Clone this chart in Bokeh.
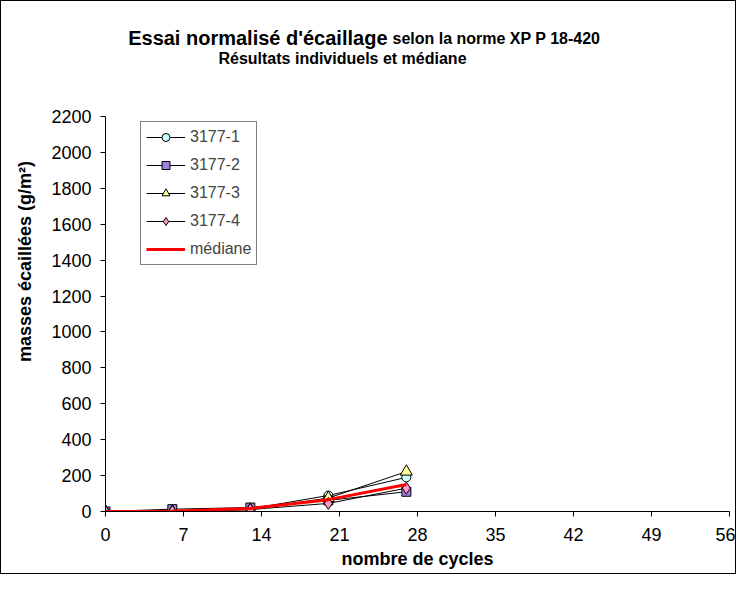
from bokeh.plotting import figure
from bokeh.models import Range1d, FixedTicker, Legend, LegendItem, Label
from bokeh.embed import file_html
from bokeh.resources import INLINE

cycles = [0, 6, 13, 20, 27]
s1 = [0, 3, 15, 89, 190]
s2 = [0, 13, 22, 62, 110]
s3 = [0, 0, 10, 75, 222]
s4 = [0, 0, 11, 45, 130]
med = [0, 2, 17, 66, 150]
names = ["3177-1", "3177-2", "3177-3", "3177-4", "médiane"]
x_ticks = [0, 7, 14, 21, 28, 35, 42, 49, 56]
y_ticks = list(range(0, 2201, 200))
Y_MAX = 2200

FONT = "Liberation Sans"

# frame spans canvas y 10..510; the axis (0..2200) occupies the lower 395 px
FRAME_H, AXIS_H = 500, 395

p = figure(width=736, height=574, output_backend="svg", toolbar_location=None,
           x_range=Range1d(0, 56), y_range=Range1d(0, Y_MAX * FRAME_H / AXIS_H),
           min_border_left=104, min_border_right=8, min_border_top=10, min_border_bottom=64)
p.styles = {"border": "1px solid black"}
p.outline_line_color = None
p.xgrid.visible = False
p.ygrid.visible = False
p.background_fill_color = "white"
p.border_fill_color = "white"

for ax in (p.xaxis[0], p.yaxis[0]):
    ax.axis_line_color = "black"
    ax.major_tick_line_color = "black"
    ax.minor_tick_line_color = None
    ax.major_tick_out = 5
    ax.major_tick_in = 0
    ax.major_label_text_font = FONT
    ax.major_label_text_font_size = "18px"
    ax.major_label_text_color = "black"
    ax.axis_label_text_font = FONT
    ax.axis_label_text_font_size = "18px"
    ax.axis_label_text_font_style = "bold"
    ax.axis_label_text_color = "black"

p.xaxis[0].ticker = FixedTicker(ticks=x_ticks)
p.yaxis[0].ticker = FixedTicker(ticks=y_ticks)
p.yaxis[0].bounds = (0, Y_MAX)
p.xaxis[0].axis_label = "nombre de cycles"
p.yaxis[0].axis_label = "masses écaillées (g/m²)"
p.xaxis[0].major_label_standoff = 11
p.xaxis[0].axis_label_standoff = 5
p.yaxis[0].major_label_standoff = 9
p.yaxis[0].axis_label_standoff = 13

series = [
    (s1, "circle", "#CCFFFF", 9),
    (s2, "square", "#A080E0", 9),
    (s3, "triangle", "#FFFF99", 12),
    (s4, "diamond", "#FF99CC", 12),
]
items = []
for (ys, mk, col, sz), nm in zip(series, names[:4]):
    l = p.line(cycles, ys, line_color="black", line_width=1)
    s = p.scatter(cycles, ys, marker=mk, size=sz, fill_color=col, line_color="black", line_width=1)
    items.append(LegendItem(label=nm, renderers=[l, s]))
lm = p.line(cycles, med, line_color="red", line_width=3)
items.append(LegendItem(label=names[4], renderers=[lm]))

legend = Legend(items=items, location=(35, 246), orientation="vertical",
                border_line_color="black", border_line_width=1,
                background_fill_color="white", background_fill_alpha=1,
                label_text_font=FONT, label_text_font_size="16px",
                glyph_width=39, glyph_height=20, spacing=8, padding=5,
                label_standoff=5, margin=0)
p.add_layout(legend, "center")

t1 = Label(x=282, y=474, x_units="screen", y_units="screen",
           text="Essai normalisé d'écaillage", text_align="right", text_baseline="middle",
           text_font=FONT, text_font_size="20px", text_font_style="bold", text_color="black")
t2 = Label(x=287, y=473, x_units="screen", y_units="screen",
           text="selon la norme XP P 18-420", text_align="left", text_baseline="middle",
           text_font=FONT, text_font_size="16px", text_font_style="bold", text_color="black")
t3 = Label(x=237, y=453, x_units="screen", y_units="screen",
           text="Résultats individuels et médiane", text_align="center", text_baseline="middle",
           text_font=FONT, text_font_size="16px", text_font_style="bold", text_color="black")
for t in (t1, t2, t3):
    p.add_layout(t)

open("out.html", "w").write(file_html(p, INLINE))
